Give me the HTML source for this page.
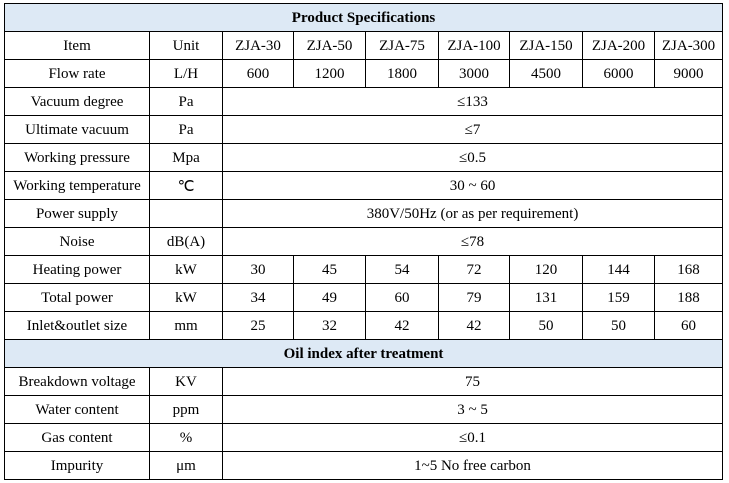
<!DOCTYPE html>
<html><head><meta charset="utf-8"><style>
body{margin:0;background:#fff;width:729px;height:483px;overflow:hidden;}
table{position:absolute;left:4px;top:3px;border-collapse:collapse;table-layout:fixed;width:719px;font-family:"Liberation Serif",serif;font-size:15px;color:#000;}
td{border:1px solid #000;height:27px;padding:1px 0 0 0;box-sizing:border-box;text-align:center;vertical-align:middle;white-space:nowrap;overflow:hidden;}
tr{height:28px;}
.h td{background:#dde9f5;font-weight:bold;}
</style></head><body>
<table>
<colgroup><col style="width:145px"><col style="width:73px"><col style="width:71px"><col style="width:72px"><col style="width:73px"><col style="width:71px"><col style="width:73px"><col style="width:72px"><col style="width:68px"></colgroup>
<tr class="h"><td colspan="9">Product Specifications</td></tr>
<tr><td>Item</td><td>Unit</td><td>ZJA-30</td><td>ZJA-50</td><td>ZJA-75</td><td>ZJA-100</td><td>ZJA-150</td><td>ZJA-200</td><td>ZJA-300</td></tr>
<tr><td>Flow rate</td><td>L/H</td><td>600</td><td>1200</td><td>1800</td><td>3000</td><td>4500</td><td>6000</td><td>9000</td></tr>
<tr><td>Vacuum degree</td><td>Pa</td><td colspan="7">≤133</td></tr>
<tr><td>Ultimate vacuum</td><td>Pa</td><td colspan="7">≤7</td></tr>
<tr><td>Working pressure</td><td>Mpa</td><td colspan="7">≤0.5</td></tr>
<tr><td>Working temperature</td><td>℃</td><td colspan="7">30 ~ 60</td></tr>
<tr><td>Power supply</td><td></td><td colspan="7">380V/50Hz (or as per requirement)</td></tr>
<tr><td>Noise</td><td>dB(A)</td><td colspan="7">≤78</td></tr>
<tr><td>Heating power</td><td>kW</td><td>30</td><td>45</td><td>54</td><td>72</td><td>120</td><td>144</td><td>168</td></tr>
<tr><td>Total power</td><td>kW</td><td>34</td><td>49</td><td>60</td><td>79</td><td>131</td><td>159</td><td>188</td></tr>
<tr><td>Inlet&amp;outlet size</td><td>mm</td><td>25</td><td>32</td><td>42</td><td>42</td><td>50</td><td>50</td><td>60</td></tr>
<tr class="h"><td colspan="9">Oil index after treatment</td></tr>
<tr><td>Breakdown voltage</td><td>KV</td><td colspan="7">75</td></tr>
<tr><td>Water content</td><td>ppm</td><td colspan="7">3 ~ 5</td></tr>
<tr><td>Gas content</td><td>%</td><td colspan="7">≤0.1</td></tr>
<tr><td>Impurity</td><td>μm</td><td colspan="7">1~5 No free carbon</td></tr>
</table>
</body></html>
